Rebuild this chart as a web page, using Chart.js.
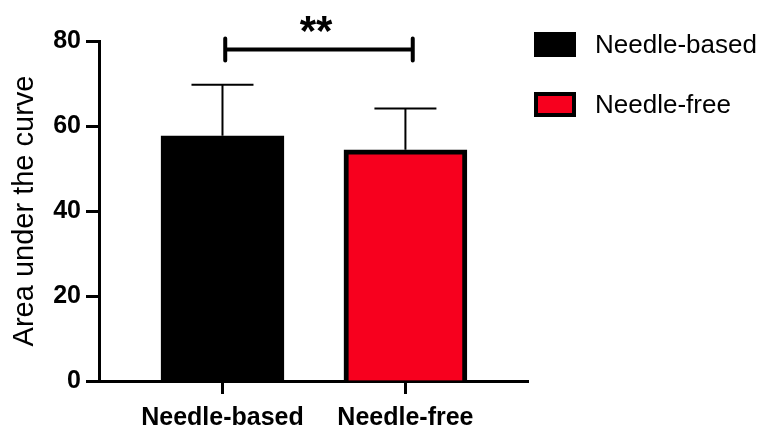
<!DOCTYPE html>
<html>
<head>
<meta charset="utf-8">
<script src="https://cdn.jsdelivr.net/npm/chart.js@4/dist/chart.umd.min.js"></script>
<style>
  html, body { margin: 0; padding: 0; background: #fff; }
  #wrap { width: 766px; height: 427px; }
</style>
</head>
<body>
<div id="wrap"><canvas id="aucChart" width="766" height="427"></canvas></div>
<script>
const categories = ['Needle-based', 'Needle-free'];
const means = [57.7, 54.4];
const upperErr = [69.7, 64.1];
const barColors = ['#000000', '#f7001e'];
const yTicks = [0, 20, 40, 60, 80];
const bracketFrom = 0.015;
const bracketTo = 1.04;
const bracketY = 78;
const bracketLabel = '**';

// error bars, significance bracket and the legend on the right
const extrasPlugin = {
  id: 'extras',
  afterDatasetsDraw(chart) {
    const ctx = chart.ctx;
    const xs = chart.scales.x;
    const ys = chart.scales.y;
    const meta = chart.getDatasetMeta(0);
    ctx.save();
    ctx.strokeStyle = '#000';
    ctx.lineWidth = 2;
    meta.data.forEach((bar, i) => {
      const yb = ys.getPixelForValue(means[i]);
      const yt = ys.getPixelForValue(upperErr[i]);
      ctx.beginPath();
      ctx.moveTo(bar.x, yb);
      ctx.lineTo(bar.x, yt);
      ctx.moveTo(bar.x - 31, yt);
      ctx.lineTo(bar.x + 31, yt);
      ctx.stroke();
    });

    const x1 = xs.getPixelForValue(bracketFrom);
    const x2 = xs.getPixelForValue(bracketTo);
    const yb = ys.getPixelForValue(bracketY);
    ctx.lineWidth = 4;
    ctx.lineCap = 'round';
    ctx.beginPath();
    ctx.moveTo(x1, yb);
    ctx.lineTo(x2, yb);
    ctx.moveTo(x1, yb - 11);
    ctx.lineTo(x1, yb + 11);
    ctx.moveTo(x2, yb - 11);
    ctx.lineTo(x2, yb + 11);
    ctx.stroke();

    ctx.fillStyle = '#000';
    ctx.font = 'bold 42px "Liberation Sans", Arial, sans-serif';
    ctx.textAlign = 'center';
    ctx.textBaseline = 'alphabetic';
    ctx.fillText(bracketLabel, (x1 + x2) / 2 - 3, yb - 5);

    // legend
    const lx = chart.chartArea.right + 6;
    ctx.font = '26px "Liberation Sans", Arial, sans-serif';
    ctx.textAlign = 'left';
    ctx.textBaseline = 'middle';
    categories.forEach((c, i) => {
      const cy = 44.5 + i * 60;
      ctx.fillStyle = '#000';
      ctx.fillRect(lx, cy - 12.5, 42, 25);
      ctx.fillStyle = barColors[i];
      ctx.fillRect(lx + 4, cy - 8.5, 34, 17);
      ctx.fillStyle = '#000';
      ctx.fillText(c, lx + 61, cy + 1);
    });
    ctx.restore();
  }
};

Chart.defaults.font.family = '"Liberation Sans", Arial, sans-serif';
Chart.defaults.color = '#000';

new Chart(document.getElementById('aucChart'), {
  type: 'bar',
  data: {
    datasets: [{
      data: means.map((v, i) => ({ x: i, y: v })),
      backgroundColor: barColors,
      borderColor: '#000',
      borderWidth: 5,
      barThickness: 123
    }]
  },
  plugins: [extrasPlugin],
  options: {
    responsive: false,
    animation: false,
    layout: { padding: { top: 41, right: 238, left: 6, bottom: 0 } },
    plugins: {
      tooltip: { enabled: false },
      legend: { display: false }
    },
    scales: {
      x: {
        type: 'linear',
        offset: false,
        min: -0.675,
        max: 1.67,
        afterBuildTicks: (scale) => { scale.ticks = categories.map((c, i) => ({ value: i })); },
        afterFit: (scale) => { scale.height = 46; },
        ticks: {
          callback: (v) => categories[v],
          font: { size: 25, weight: 'bold' },
          padding: 9,
          maxRotation: 0,
          autoSkip: false
        },
        grid: { display: true, offset: false, drawOnChartArea: false, tickLength: 13, tickWidth: 3, color: '#000' },
        border: { width: 3, color: '#000' }
      },
      y: {
        min: 0,
        max: 80,
        afterBuildTicks: (scale) => { scale.ticks = yTicks.map(v => ({ value: v })); },
        afterFit: (scale) => { scale.width = 93; },
        ticks: { font: { size: 25, weight: 'bold' }, padding: 5 },
        grid: { display: true, drawOnChartArea: false, tickLength: 13, tickWidth: 3, color: '#000' },
        border: { width: 3, color: '#000' },
        title: { display: true, text: 'Area under the curve', font: { size: 29 }, padding: 2 }
      }
    }
  }
});
</script>
</body>
</html>
